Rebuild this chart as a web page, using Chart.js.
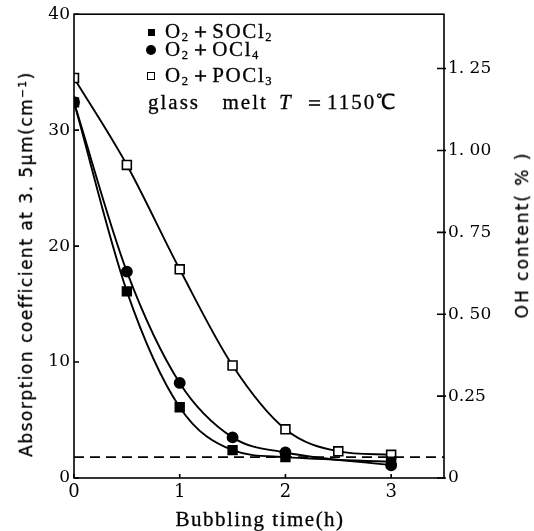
<!DOCTYPE html>
<html>
<head>
<meta charset="utf-8">
<script src="https://cdn.jsdelivr.net/npm/chart.js@4.4.1/dist/chart.umd.min.js"></script>
<style>
    body { margin: 0; background: #fff; }
    #wrap { position: relative; width: 534px; height: 531px; }
    #chart { position: absolute; left: 0; top: 0; }
    .txt { position: absolute; color: #000; white-space: nowrap; line-height: 20px; -webkit-text-stroke: 0.3px #000; }
    .serif { font-family: "Liberation Serif", serif; font-size: 21px; }
    .sans { font-family: "DejaVu Sans", sans-serif; font-size: 17px; }
    sub { font-size: 0.6em; vertical-align: -0.25em; line-height: 0; }
    sup { font-size: 0.62em; vertical-align: 0.6em; line-height: 0; }
    .mk { position: absolute; box-sizing: border-box; }
</style>
</head>
<body>
<div id="wrap">
    <canvas id="chart" width="534" height="531"></canvas>

    <!-- legend inside the plot -->
    <div class="mk" style="left:148px; top:29px; width:7px; height:7px; background:#000;"></div>
    <div class="txt serif" style="left:165px; top:21px; letter-spacing:1.6px;">O<sub>2</sub>＋SOCl<sub>2</sub></div>
    <div class="mk" style="left:146px; top:45px; width:10px; height:10px; border-radius:50%; background:#000;"></div>
    <div class="txt serif" style="left:165px; top:39px; letter-spacing:1.6px;">O<sub>2</sub>＋OCl<sub>4</sub></div>
    <div class="mk" style="left:147px; top:72px; width:8px; height:8px; border:1.5px solid #000; background:#fff;"></div>
    <div class="txt serif" style="left:165px; top:65px; letter-spacing:1.6px;">O<sub>2</sub>＋POCl<sub>3</sub></div>
    <div class="txt serif" style="left:148px; top:92px; letter-spacing:2px; word-spacing:4px;">glass&nbsp;&nbsp;melt <i>T</i> ＝1150℃</div>

    <!-- axis titles -->
    <div class="txt sans" style="left:26px; top:264px; transform:translate(-50%,-50%) rotate(-90deg); letter-spacing:1.5px;">Absorption coefficient at 3. 5μm(cm<sup>−1</sup>)</div>
    <div class="txt sans" style="left:522px; top:235px; transform:translate(-50%,-50%) rotate(-90deg); letter-spacing:2px;">OH content( % )</div>
    <div class="txt serif" style="left:260px; top:519px; transform:translate(-50%,-50%); font-size:21px; letter-spacing:1.5px;">Bubbling time(h)</div>
</div>

<script>
// values
const socl2Times = [0, 0.5, 1, 1.5, 2, 3];
const socl2Values = [32.4, 16.1, 6.1, 2.4, 1.8, 1.4];

const ocl4Times = [0, 0.5, 1, 1.5, 2, 3];
const ocl4Values = [32.4, 17.8, 8.2, 3.5, 2.2, 1.1];

const pocl3Times = [0, 0.5, 1, 1.5, 2, 2.5, 3];
const pocl3Values = [34.5, 27.0, 18.0, 9.7, 4.2, 2.3, 2.0];

const dashTimes = [0, 3.5];
const dashValues = [1.8, 1.8];

const xTicks = [0, 1, 2, 3];
const leftTicks = [0, 10, 20, 30, 40];
const rightTicks = [0, 0.25, 0.5, 0.75, 1.0, 1.25];
const rightTickLabels = ['0', '0.25', '0. 50', '0. 75', '1. 00', '1. 25'];

const ink = '#000';
const tickFont = { family: 'DejaVu Serif', size: 17 };

function toPoints(xs, ys) {
    return xs.map((x, i) => ({ x: x, y: ys[i] }));
}

function fixTicks(values) {
    return scale => { scale.ticks = values.map(v => ({ value: v })); };
}

// frame round the plot and short inward tick marks
const framePlugin = {
    id: 'frame',
    afterDatasetsDraw(chart) {
        const { ctx, chartArea: a, scales } = chart;
        ctx.save();
        ctx.strokeStyle = ink;
        ctx.lineWidth = 1.6;
        ctx.strokeRect(a.left, a.top, a.right - a.left, a.bottom - a.top);
        ctx.beginPath();
        leftTicks.forEach(v => {
            const y = scales.y.getPixelForValue(v);
            ctx.moveTo(a.left, y); ctx.lineTo(a.left + 5, y);
        });
        rightTicks.forEach(v => {
            const y = scales.y2.getPixelForValue(v);
            ctx.moveTo(a.right - 7, y); ctx.lineTo(a.right + 2, y);
        });
        xTicks.forEach(v => {
            const x = scales.x.getPixelForValue(v);
            ctx.moveTo(x, a.bottom); ctx.lineTo(x, a.bottom - 4);
        });
        ctx.stroke();
        ctx.restore();
    }
};

new Chart(document.getElementById('chart'), {
    type: 'line',
    data: {
        datasets: [
            {
                label: 'baseline',
                data: toPoints(dashTimes, dashValues),
                borderColor: ink,
                borderWidth: 1.6,
                borderDash: [10, 6],
                pointRadius: 0
            },
            {
                label: 'O2+SOCl2',
                data: toPoints(socl2Times, socl2Values),
                borderColor: ink,
                borderWidth: 1.9,
                cubicInterpolationMode: 'monotone',
                pointStyle: 'rect',
                pointRadius: 6,
                pointBackgroundColor: ink,
                pointBorderColor: ink
            },
            {
                label: 'O2+OCl4',
                data: toPoints(ocl4Times, ocl4Values),
                borderColor: ink,
                borderWidth: 1.9,
                cubicInterpolationMode: 'monotone',
                pointStyle: 'circle',
                pointRadius: 5,
                pointBackgroundColor: ink,
                pointBorderColor: ink
            },
            {
                label: 'O2+POCl3',
                data: toPoints(pocl3Times, pocl3Values),
                borderColor: ink,
                borderWidth: 1.9,
                cubicInterpolationMode: 'monotone',
                pointStyle: 'rect',
                pointRadius: 6.3,
                pointBorderWidth: 1.6,
                pointBackgroundColor: '#fff',
                pointBorderColor: ink
            }
        ]
    },
    options: {
        responsive: false,
        devicePixelRatio: 1,
        animation: false,
        layout: { padding: { top: 14, left: 0, right: 0, bottom: 0 } },
        plugins: { legend: { display: false }, tooltip: { enabled: false } },
        scales: {
            x: {
                type: 'linear',
                min: 0,
                max: 3.5,
                afterBuildTicks: fixTicks(xTicks),
                afterFit: s => { s.height = 53; },
                grid: { display: false, drawTicks: false },
                border: { display: false },
                ticks: { color: ink, font: { family: 'DejaVu Serif', size: 18 }, padding: 4 }
            },
            y: {
                position: 'left',
                min: 0,
                max: 40,
                afterBuildTicks: fixTicks(leftTicks),
                afterFit: s => { s.width = 74; },
                grid: { display: false, drawTicks: false },
                border: { display: false },
                ticks: { color: ink, font: tickFont, padding: 4 }
            },
            y2: {
                position: 'right',
                min: 0,
                max: 1.416,
                afterBuildTicks: fixTicks(rightTicks),
                afterFit: s => { s.width = 90; },
                grid: { display: false, drawTicks: false },
                border: { display: false },
                ticks: {
                    color: ink,
                    font: tickFont,
                    padding: 4,
                    callback: (v, i) => rightTickLabels[i]
                }
            }
        }
    },
    plugins: [framePlugin]
});
</script>
</body>
</html>
